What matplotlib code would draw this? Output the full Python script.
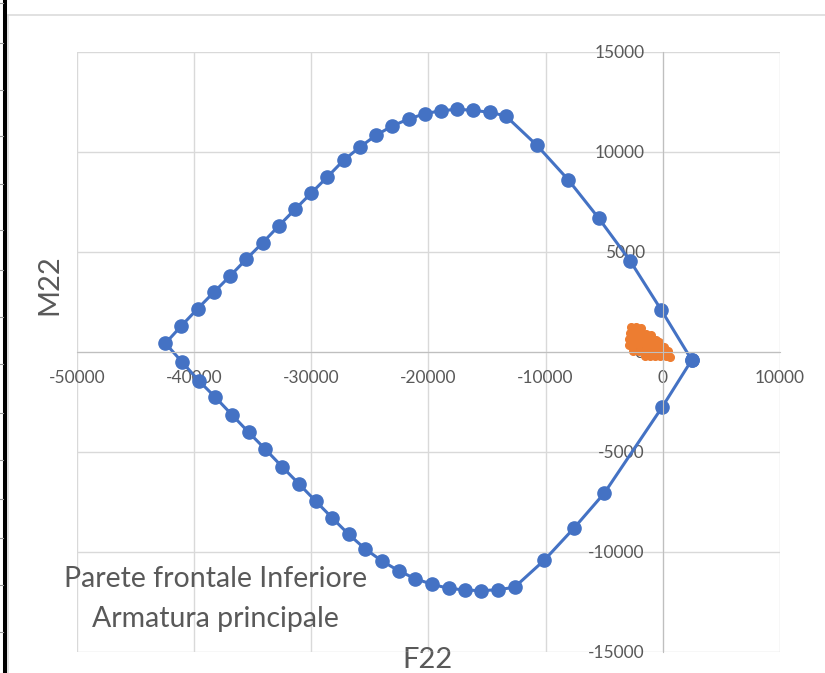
import matplotlib
matplotlib.use('Agg')
import matplotlib.pyplot as plt
from matplotlib.lines import Line2D

# interaction domain, blue series (F22, M22)
f22 = [2470, -145, -2760, -5460, -8070, -10740, -13400, -14780, -16150, -17540,
       -18930, -20290, -21690, -23080, -24470, -25830, -27230, -28620, -30010,
       -31370, -32770, -34130, -35520, -36890, -38280, -39680, -41060, -42430,
       -41010, -39590, -38170, -36740, -35330, -33900, -32480, -31030, -29620,
       -28220, -26800, -25380, -23960, -22540, -21120, -19690, -18280, -16850,
       -15490, -14070, -12650, -10120, -7590, -4980, -30, 2470]
m22 = [-415, 2100, 4520, 6670, 8600, 10320, 11790, 11970, 12070, 12120,
       12050, 11900, 11635, 11285, 10820, 10235, 9570, 8735, 7920,
       7120, 6285, 5450, 4635, 3800, 2985, 2150, 1300, 420,
       -515, -1450, -2280, -3165, -4030, -4880, -5750, -6615, -7465,
       -8300, -9130, -9865, -10465, -10950, -11350, -11630, -11830, -11915,
       -11950, -11900, -11780, -10430, -8830, -7065, -2750, -415]

# acting forces, orange cloud
load_f22 = [-2750, -2300, -1900,
            -2800, -2350, -1900, -1450, -1000,
            -2850, -2400, -1950, -1500, -1050, -600, -350,
            -2900, -2450, -2000, -1550, -1100, -650, -200, 100,
            -2500, -2050, -1600, -1150, -700, -250, 200, 450,
            -1550, -1100, -650, -200, 250, 600]
load_m22 = [1250, 1250, 1180,
            950, 950, 950, 900, 850,
            650, 650, 650, 650, 650, 600, 500,
            350, 350, 350, 350, 350, 350, 350, 250,
            50, 50, 50, 50, 50, 50, 50, 50,
            -200, -200, -200, -200, -200, -250]

x_ticks = [-50000, -40000, -30000, -20000, -10000, 0, 10000]
y_ticks = [-15000, -10000, -5000, 0, 5000, 10000, 15000]

# spreadsheet row borders visible at the left of the screenshot
row_marks = [3, 43, 90, 136, 184, 230, 270, 317, 364, 413, 460, 499, 538, 585, 632]

plt.rcParams['font.family'] = ['Lato', 'DejaVu Sans']
plt.rcParams['axes.unicode_minus'] = False

W, H = 825, 673
fig = plt.figure(figsize=(W / 100, H / 100), dpi=100)
ax = fig.add_axes([76.7 / W, 21.3 / H, 703.3 / W, 600 / H])

ax.plot(f22, m22, color='#4472c4', lw=2.2, marker='o', ms=9.5, zorder=2.1)
ax.plot(load_f22, load_m22, ls='none', marker='o', ms=5.5, color='#ed7d31', zorder=2.2)

ax.set_xlim(-50000, 10000)
ax.set_ylim(-15000, 15000)
ax.set_xticks(x_ticks)
ax.set_yticks(y_ticks)
ax.grid(color='#d9d9d9', lw=1)
for line in ax.get_xgridlines() + ax.get_ygridlines():
    line.set_clip_on(False)

ax.spines['top'].set_visible(False)
ax.spines['right'].set_visible(False)
ax.spines['left'].set_position(('data', 0))
ax.spines['bottom'].set_position(('data', 0))
ax.spines['left'].set_color('#bfbfbf')
ax.spines['bottom'].set_color('#bfbfbf')
ax.tick_params(length=0, pad=13, labelsize=12.5, labelcolor='#595959')

ax.set_xlabel('F22', fontsize=21, color='#595959', va='top')
ax.xaxis.set_label_coords(0.4995, 0.008)
ax.set_ylabel('M22', fontsize=21, color='#595959')
ax.yaxis.set_label_coords(-0.02, 0.611)

ax.text(0.197, 0.088, 'Parete frontale Inferiore\nArmatura principale',
        transform=ax.transAxes, ha='center', va='center', multialignment='center',
        fontsize=20.5, color='#595959', linespacing=1.68)

# screenshot chrome: chart border and sheet edge
def px(x, y):
    return x / W, 1 - y / H

for a, b, c, lw in [((5.3, 0), (5.3, H), 'black', 2.9),
                    ((8.3, 15), (8.3, H), '#d9d9d9', 1.1),
                    ((8.3, 15), (W, 15), '#d9d9d9', 1.1)]:
    (x0, y0), (x1, y1) = px(*a), px(*b)
    fig.add_artist(Line2D([x0, x1], [y0, y1], color=c, lw=lw, transform=fig.transFigure))
for r in row_marks:
    (x0, y0), (x1, y1) = px(0, r), px(3, r)
    fig.add_artist(Line2D([x0, x1], [y0, y1], color='#9a9a9a', lw=0.8, transform=fig.transFigure))

fig.savefig('out.png', dpi=100, facecolor='white')
